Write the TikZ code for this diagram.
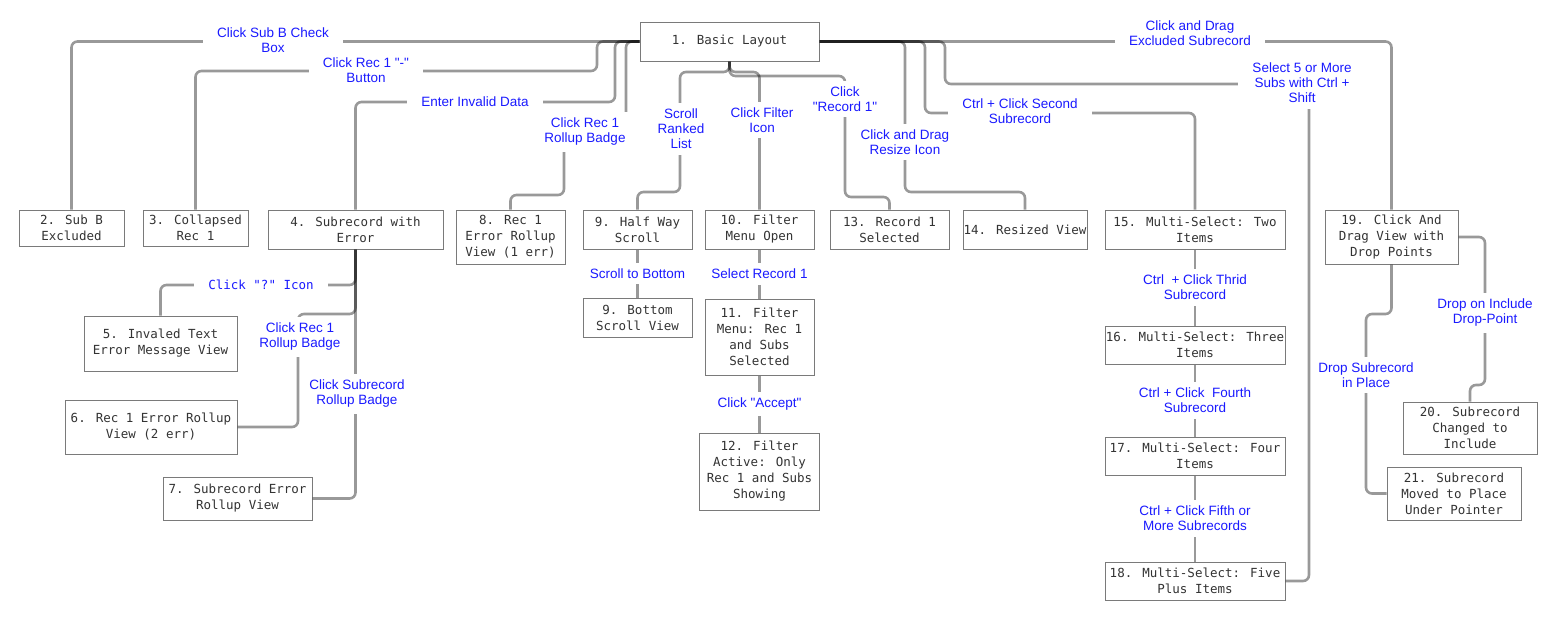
\documentclass[tikz,border=0pt]{standalone}
\usepackage{fontspec}
\setmainfont{Liberation Sans}[Ligatures=TeXOff]
\newfontfamily\boxfont{DejaVu Sans Mono}[Ligatures=TeXOff]
\definecolor{sblue}{HTML}{1A1AFF}
\definecolor{sgray}{HTML}{7A7A7A}
\definecolor{stext}{HTML}{333333}

\begin{document}
\begin{tikzpicture}[x=1pt,y=-1pt,
        box/.style={draw=sgray, line width=1pt, fill=white, text=stext, align=center, inner sep=0pt, font=\boxfont\fontsize{12.5}{16}\selectfont},
        lbl/.style={fill=white, text=sblue, align=center, sharp corners, inner xsep=4pt, inner ysep=6pt, font=\fontsize{13.5}{15}\selectfont},
        hlbl/.style={lbl, inner xsep=14pt},
        link/.style={draw=black, draw opacity=0.4, line width=2.6pt, rounded corners=6pt}]
        \fill[white] (0,0) rectangle (1554,621);
        \useasboundingbox (0,0) rectangle (1554,621);

        \node[box, minimum width=179, minimum height=39] (BL) at (729.5, 41.5) {1. Basic Layout};

        \node[box, minimum width=105, minimum height=36] (SB) at (71.5, 228) {2. Sub B\\Excluded};

        \node[box, minimum width=105, minimum height=36] (CR) at (195.5, 228) {3. Collapsed\\Rec 1};

        \node[box, minimum width=175, minimum height=39] (SE) at (355.5, 229.5) {4. Subrecord with\\Error};

        \node[box, minimum width=153, minimum height=55] (IT) at (160.5, 343.5) {5. Invaled Text\\Error Message View};

        \node[box, minimum width=172, minimum height=54] (RE2) at (151, 427) {6. Rec 1 Error Rollup\\View (2 err)};

        \node[box, minimum width=149, minimum height=43] (SR) at (237.5, 498.5) {7. Subrecord Error\\Rollup View};

        \node[box, minimum width=109, minimum height=54] (RE1) at (510.5, 237) {8. Rec 1\\Error Rollup\\View (1 err)};

        \node[box, minimum width=109, minimum height=39] (HW) at (637.5, 229.5) {9. Half Way\\Scroll};

        \node[box, minimum width=109, minimum height=39] (BS) at (637.5, 317.5) {9. Bottom\\Scroll View};

        \node[box, minimum width=109, minimum height=39] (FM) at (759.5, 229.5) {10. Filter\\Menu Open};

        \node[box, minimum width=109, minimum height=76] (FR) at (759.5, 337) {11. Filter\\Menu: Rec 1\\and Subs\\Selected};

        \node[box, minimum width=120, minimum height=77] (FA) at (759.5, 471.5) {12. Filter\\Active: Only\\Rec 1 and Subs\\Showing};

        \node[box, minimum width=119, minimum height=39] (RS) at (889.5, 229.5) {13. Record 1\\Selected};

        \node[box, minimum width=124, minimum height=39] (RV) at (1025, 229.5) {14. Resized View};

        \node[box, minimum width=180, minimum height=39] (M2) at (1195, 229.5) {15. Multi-Select: Two\\Items};

        \node[box, minimum width=180, minimum height=38] (M3) at (1195, 345) {16. Multi-Select: Three\\Items};

        \node[box, minimum width=180, minimum height=38] (M4) at (1195, 456) {17. Multi-Select: Four\\Items};

        \node[box, minimum width=180, minimum height=38] (M5) at (1195, 581) {18. Multi-Select: Five\\Plus Items};

        \node[box, minimum width=133, minimum height=54] (DV) at (1391.5, 237) {19. Click And\\Drag View with\\Drop Points};

        \node[box, minimum width=134, minimum height=52] (CI) at (1470, 428) {20. Subrecord\\Changed to\\Include};

        \node[box, minimum width=134, minimum height=53] (MP) at (1454, 493.5) {21. Subrecord\\Moved to Place\\Under Pointer};

        \draw[link] (BL.west) -| (SB.north) node[hlbl] at (273, 40) {Click Sub B Check\\Box};
        \draw[link] (BL.west) -| (597, 71) -| (CR.north) node[hlbl] at (366, 70) {Click Rec 1 "-"\\Button};
        \draw[link] (BL.west) -| (615, 102) -| (SE.north) node[hlbl] at (475, 102) {Enter Invalid Data};
        \draw[link] (BL.west) -| (626, 132) -| (564, 195) -| (RE1.north) node[lbl] at (585, 132) {Click Rec 1\\Rollup Badge};

        \draw[link] (BL.south) |- (680, 72) -- (680, 192) -| (HW.north) node[lbl] at (681, 129) {Scroll\\Ranked\\List};
        \draw[link] (BL.south) |- (759.5, 72) -- (FM.north) node[lbl] at (762, 120) {Click Filter\\Icon};
        \draw[link] (BL.south) |- (845, 76) -- (845, 197) -| (RS.north) node[lbl] at (845, 99) {Click\\"Record 1"};

        \draw[link] (BL.east) -| (905, 192) -| (RV.north) node[lbl] at (905, 142) {Click and Drag\\Resize Icon};
        \draw[link] (BL.east) -| (925, 113) -| (M2.north) node[hlbl] at (1020, 111) {Ctrl + Click Second\\Subrecord};
        \draw[link] (BL.east) -| (945, 84) -| (1309, 581) -- (M5.east) node[hlbl] at (1302, 83) {Select 5 or More\\Subs with Ctrl +\\Shift};
        \draw[link] (BL.east) -| (DV.north) node[hlbl] at (1190, 33) {Click and Drag\\Excluded Subrecord};

        \draw[link] (SE.south) |- (200, 285) -| (IT.north) node[hlbl, font=\boxfont\fontsize{12.5}{15}\selectfont] at (261, 285) {Click "?" Icon};
        \draw[link] (SE.south) |- (298, 314) |- (RE2.east) node[lbl] at (300, 337) {Click Rec 1\\Rollup Badge};
        \draw[link] (SE.south) |- (SR.east) node[lbl] at (357, 394) {Click Subrecord\\Rollup Badge};

        \draw[link] (HW) -- node[lbl] {Scroll to Bottom} (BS);
        \draw[link] (FM) -- node[lbl] {Select Record 1} (FR);
        \draw[link] (FR) -- node[lbl] {Click "Accept"} (FA);

        \draw[link] (M2) -- node[lbl] {Ctrl~ + Click Thrid\\Subrecord} (M3);
        \draw[link] (M3) -- node[lbl] {Ctrl + Click~ Fourth\\Subrecord} (M4);
        \draw[link] (M4) -- node[lbl] {Ctrl + Click Fifth or\\More Subrecords} (M5);

        \draw[link] (DV.south) |- (1366, 314) |- (MP.west) node[lbl] at (1366, 375) {Drop Subrecord\\in Place};
        \draw[link] (DV.east) -| (1485, 385) -| (CI.north) node[lbl] at (1485, 313) {Drop on Include\\Drop-Point};

    \end{tikzpicture}
\end{document}
